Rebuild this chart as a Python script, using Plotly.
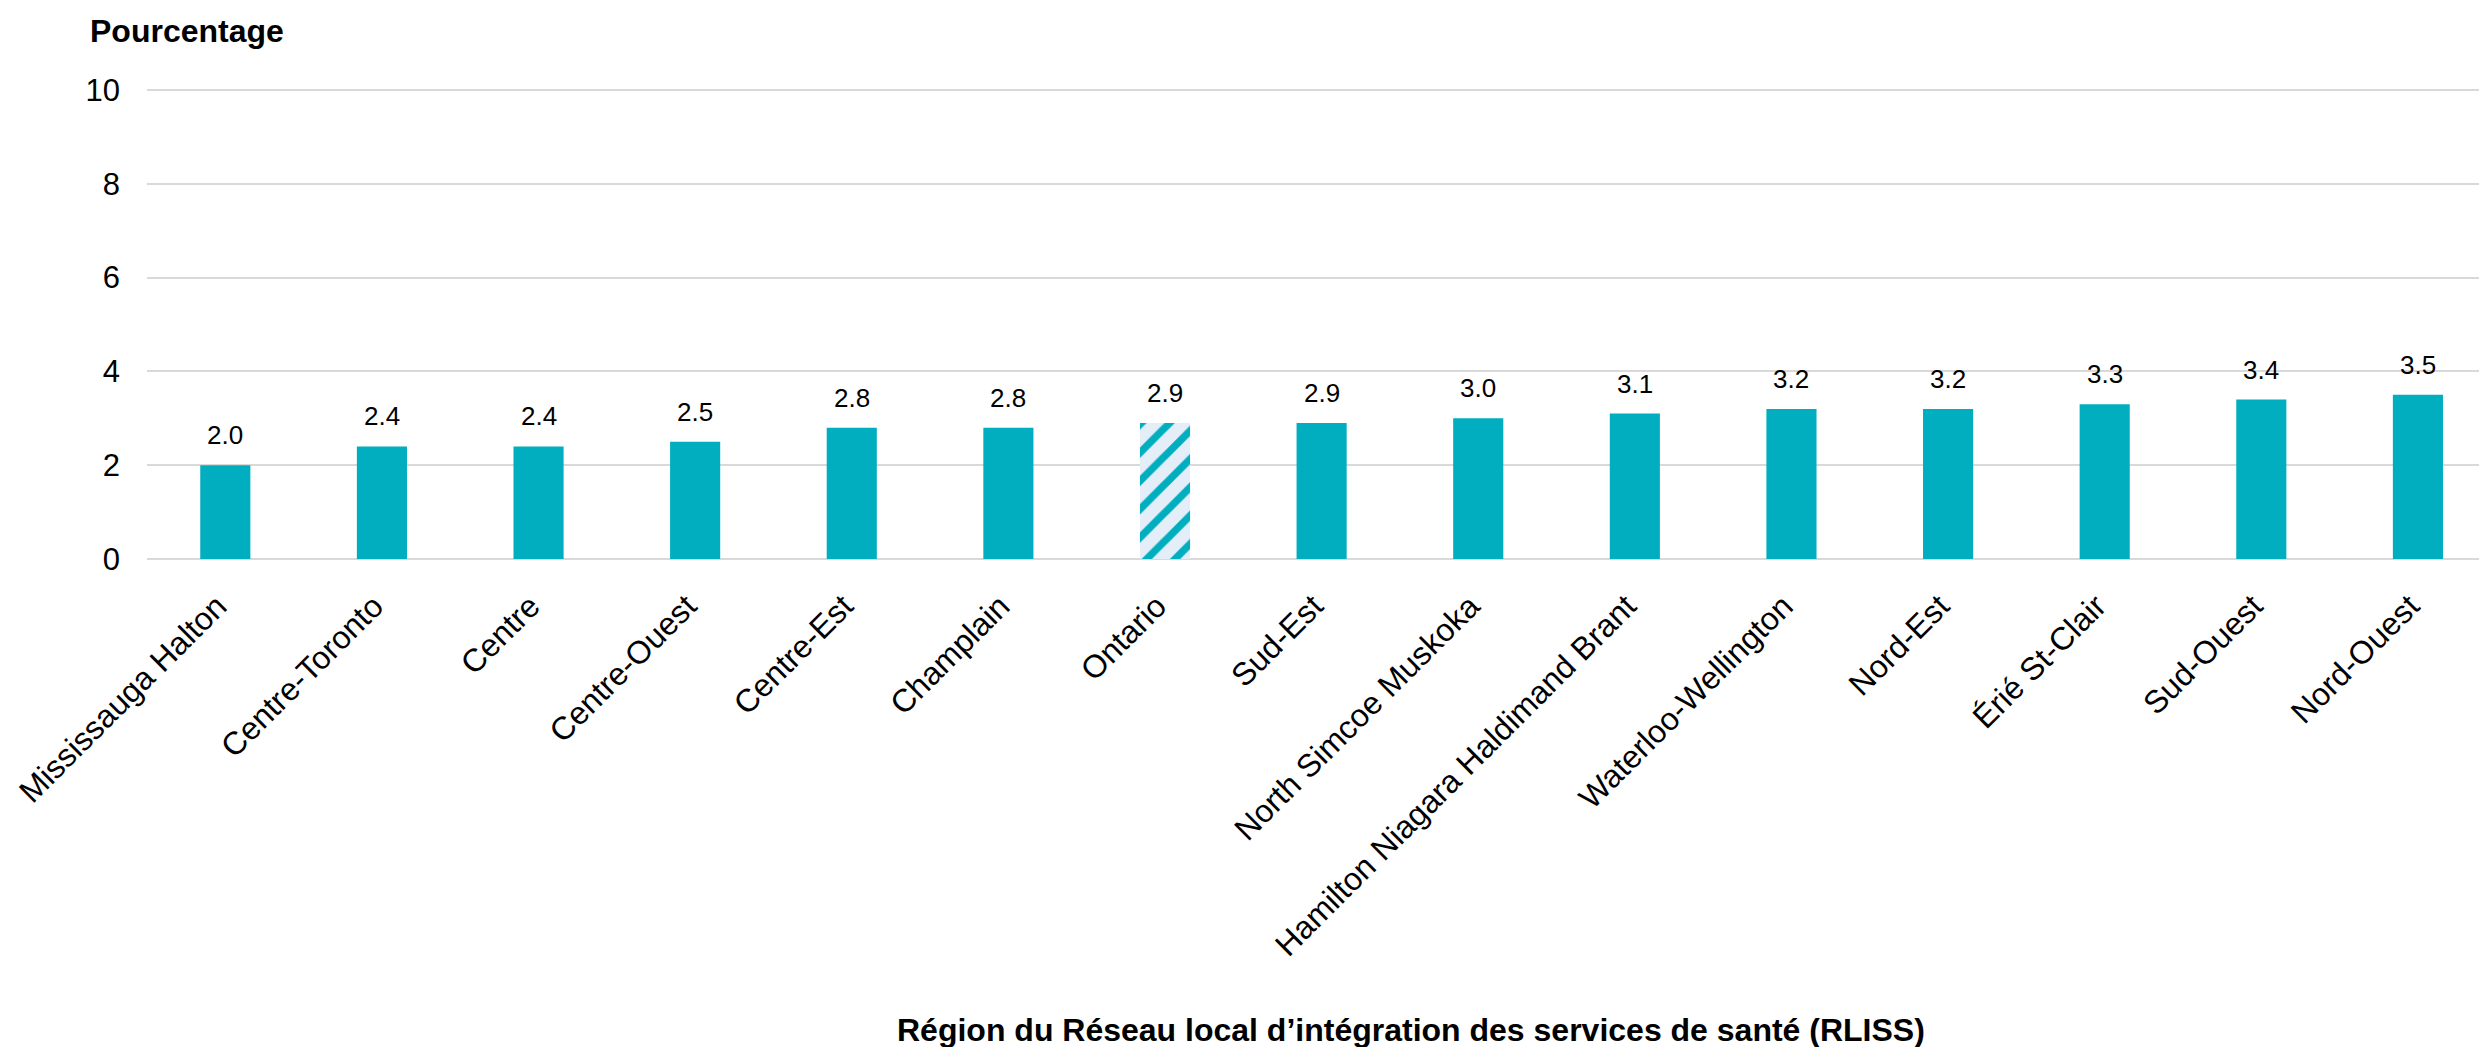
import plotly.graph_objects as go

categories = [
    "Mississauga Halton", "Centre-Toronto", "Centre", "Centre-Ouest", "Centre-Est",
    "Champlain", "Ontario", "Sud-Est", "North Simcoe Muskoka",
    "Hamilton Niagara Haldimand Brant", "Waterloo-Wellington", "Nord-Est",
    "Érié St-Clair", "Sud-Ouest", "Nord-Ouest",
]
values = [2.0, 2.4, 2.4, 2.5, 2.8, 2.8, 2.9, 2.9, 3.0, 3.1, 3.2, 3.2, 3.3, 3.4, 3.5]
value_labels = ["2.0", "2.4", "2.4", "2.5", "2.8", "2.8", "2.9", "2.9", "3.0",
                "3.1", "3.2", "3.2", "3.3", "3.4", "3.5"]
y_ticks = [0, 2, 4, 6, 8, 10]
highlight = "Ontario"

TEAL = "#00AEBF"
LIGHT = "#E3EEF9"
FONT = "Liberation Sans, Arial, sans-serif"

W, H = 2479, 1047
L, R, T, B = 147, 0, 88, 488
PW = W - L - R
PH = H - T - B

shapes = ["/" if c == highlight else "" for c in categories]

fig = go.Figure()
fig.add_trace(go.Bar(
    x=categories,
    y=values,
    marker=dict(
        color=TEAL,
        line=dict(width=0),
        pattern=dict(shape=shapes, fgcolor=TEAL, bgcolor=LIGHT, size=20,
                     solidity=0.37, fgopacity=1),
    ),
    hoverinfo="x+y",
    showlegend=False,
))

annotations = []
for c, v, t in zip(categories, values, value_labels):
    annotations.append(dict(
        x=c, y=v, xref="x", yref="y", text=t, showarrow=False,
        yanchor="bottom", xanchor="center", yshift=13,
        font=dict(family=FONT, size=26, color="#000000"),
    ))

annotations.append(dict(
    text="<b>Pourcentage</b>", showarrow=False,
    xref="paper", yref="paper",
    x=(88 - L) / PW, xanchor="left",
    y=1 + (T - 31) / PH, yanchor="middle",
    font=dict(family=FONT, size=32, color="#000000"),
))
annotations.append(dict(
    text="<b>Région du Réseau local d’intégration des services de santé (RLISS)</b>",
    showarrow=False, xref="paper", yref="paper",
    x=(1411 - L) / PW, xanchor="center",
    y=-(1030 - (T + PH)) / PH, yanchor="middle",
    font=dict(family=FONT, size=32, color="#000000"),
))

fig.update_layout(
    width=W, height=H,
    margin=dict(l=L, r=R, t=T, b=B, autoexpand=False),
    paper_bgcolor="white", plot_bgcolor="white",
    bargap=0.68,
    annotations=annotations,
    font=dict(family=FONT, color="#000000"),
)
fig.update_xaxes(
    range=[-0.5, 14.39],
    tickangle=-45,
    tickfont=dict(family=FONT, size=32, color="#000000"),
    showgrid=False, showline=False, ticks="",
    ticklabelstandoff=21,
    ticklabelshift=-8,
    automargin=False,
)
fig.update_yaxes(
    range=[0, 10.043],
    tickvals=y_ticks,
    ticktext=[str(v) for v in y_ticks],
    tickfont=dict(family=FONT, size=31, color="#000000"),
    showgrid=True, gridcolor="#D9D9D9", gridwidth=2,
    zeroline=True, zerolinecolor="#D9D9D9", zerolinewidth=2,
    showline=False, ticks="",
    ticklabelstandoff=26,
    automargin=False,
)

fig.write_html(
    "out.html",
    config={"displayModeBar": False},
    post_script="document.body.style.margin='0';document.body.style.overflow='hidden';",
)
